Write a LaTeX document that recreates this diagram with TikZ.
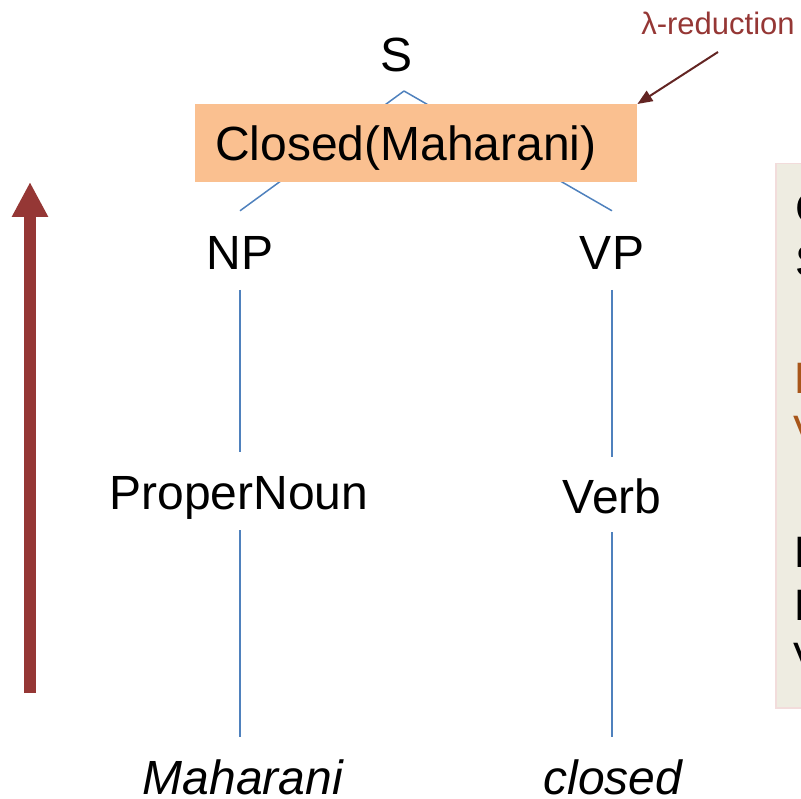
\documentclass[tikz,border=0pt]{standalone}
\usepackage{fontspec}
\setmainfont{Liberation Sans}
\usetikzlibrary{arrows.meta}

\definecolor{treeblue}{HTML}{4F81BD}
\definecolor{semfill}{HTML}{FAC090}
\definecolor{upred}{HTML}{953735}
\definecolor{notered}{HTML}{632523}
\definecolor{panelfill}{HTML}{EEECE1}
\definecolor{panelrule}{HTML}{F2DCDB}
\definecolor{panelorange}{HTML}{A8561A}

\tikzset{
  cat/.style={anchor=base, inner sep=0pt, text height=34pt, text depth=0pt,
              font=\fontsize{48}{56}\selectfont},
  word/.style={cat, font=\fontsize{48}{56}\selectfont\itshape},
  branch/.style={draw=treeblue, line width=1.5pt},
  semantics/.style={fill=semfill, anchor=north west, inner ysep=0pt, inner xsep=20pt,
                    text width=402pt, minimum height=78pt, align=left,
                    text height=34pt, text depth=0pt, font=\fontsize{48}{56}\selectfont},
  panelline/.style={anchor=base west, inner sep=0pt, font=\fontsize{44}{52}\selectfont},
}

\begin{document}
\begin{tikzpicture}[x=1pt, y=-1pt]
  \useasboundingbox (0,0) rectangle (801,799);
  \clip (0,0) rectangle (801,799);

  % tree labels
  \node[cat] (S) at (397,72) {S};
  \node[cat] (NP) at (240,270) {NP};
  \node[cat] (VP) at (612,270) {VP};
  \node[cat] (PN) at (239,510) {ProperNoun};
  \node[cat] (V) at (612,514) {Verb};
  \node[word] (w1) at (243,794) {Maharani};
  \node[word] (w2) at (613,794) {closed};

  % branches
  \draw[branch] ([xshift=7pt,yshift=-19pt]S.base) -- ([yshift=25pt]NP.north);
  \draw[branch] ([xshift=7pt,yshift=-19pt]S.base) -- ([yshift=25pt]VP.north);
  \draw[branch] ([yshift=-20pt]NP.base) -- ([yshift=24pt]NP.base |- PN.north);
  \draw[branch] ([yshift=-20pt]VP.base) -- ([yshift=23pt]VP.base |- V.north);
  \draw[branch] ([yshift=-20pt]NP.base |- PN.base) -- ([yshift=23pt]NP.base |- w1.north);
  \draw[branch] ([yshift=-18pt]V.base) -- ([yshift=23pt]V.base |- w2.north);

  % semantic value of S, drawn over the branches
  \node[semantics] (sem) at (195,104) {Closed(Maharani)};

  % annotation
  \node[anchor=base, inner sep=0pt, text=upred, font=\fontsize{31}{36}\selectfont]
    (lam) at (718,35) {λ-reduction};
  \draw[notered, line width=2pt, -{Triangle[width=12pt,length=15pt]}]
    ([yshift=-17pt]lam.base) -- (sem.north east);

  % bottom-up direction arrow
  \coordinate (upfrom) at (30,693);
  \coordinate (upto) at (30,182);
  \draw[upred, line width=12pt, -{Triangle[width=34pt,length=35pt]}] (upfrom) -- (upto);

  % side panel
  \node[draw=panelrule, line width=1.5pt, fill=panelfill, anchor=north west,
        minimum width=120pt, minimum height=544pt, inner sep=0pt] (panel) at (775,163) {};
  \node[panelline] (p1) at (795,224) {Compositional};
  \node[panelline] (p2) at (795,277) {Semantics};
  \node[panelline, text=panelorange] (p3) at (794,394) {Lexical};
  \node[panelline, text=panelorange] (p4) at (793,447) {Values};
  \node[panelline] (p5) at (794,567) {Each};
  \node[panelline] (p6) at (794,620) {Rule};
  \node[panelline] (p7) at (793,673) {Values};
\end{tikzpicture}
\end{document}
